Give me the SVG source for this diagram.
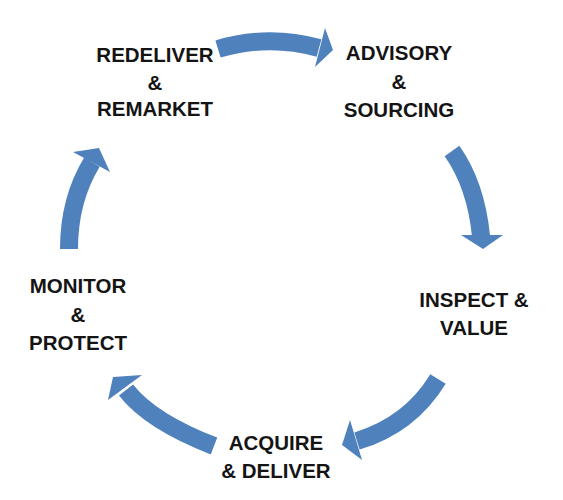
<svg xmlns="http://www.w3.org/2000/svg" width="563" height="500" viewBox="0 0 563 500">
<defs>
<style>
.lbl{font-family:"Liberation Sans",Arial,sans-serif;font-weight:bold;font-size:20.5px;fill:#141414;text-anchor:middle}
.body{fill:none;stroke:#4F81BD;stroke-width:18;stroke-linecap:butt}
.head{fill:#4F81BD}
</style>
</defs>
<rect width="563" height="500" fill="#ffffff"/>
<g id="connectors">
<g id="arrow-top">
<path class="body" d="M218,49 Q268,34 319,48"/>
<polygon class="head" points="325,28 333,50 315,67"/>
</g>
<g id="arrow-right">
<path class="body" d="M452,151 Q476,185 481,236"/>
<polygon class="head" points="461,235 503,235 483,249"/>
</g>
<g id="arrow-bottom-right">
<path class="body" d="M438,379 Q410,425 357,441"/>
<polygon class="head" points="350,420 362,460 342,445"/>
</g>
<g id="arrow-bottom-left">
<path class="body" d="M214,446 C188,436 148,418 126,390"/>
<polygon class="head" points="142,375 108,400 113,377"/>
</g>
<g id="arrow-left">
<path class="body" d="M69,249 C69,215 78,185 92,162"/>
<polygon class="head" points="73,152 110,172 99,148"/>
</g>
</g>
<g id="node-redeliver">
<text class="lbl" x="155" y="62">REDELIVER</text>
<text class="lbl" x="155" y="90">&amp;</text>
<text class="lbl" x="155" y="116">REMARKET</text>
</g>
<g id="node-advisory">
<text class="lbl" x="399" y="60">ADVISORY</text>
<text class="lbl" x="399" y="89">&amp;</text>
<text class="lbl" x="399" y="117">SOURCING</text>
</g>
<g id="node-inspect">
<text class="lbl" x="474" y="307">INSPECT &amp;</text>
<text class="lbl" x="474" y="335">VALUE</text>
</g>
<g id="node-acquire">
<text class="lbl" x="276" y="450">ACQUIRE</text>
<text class="lbl" x="276" y="478">&amp; DELIVER</text>
</g>
<g id="node-monitor">
<text class="lbl" x="78" y="293">MONITOR</text>
<text class="lbl" x="78" y="322">&amp;</text>
<text class="lbl" x="78" y="350">PROTECT</text>
</g>
</svg>
